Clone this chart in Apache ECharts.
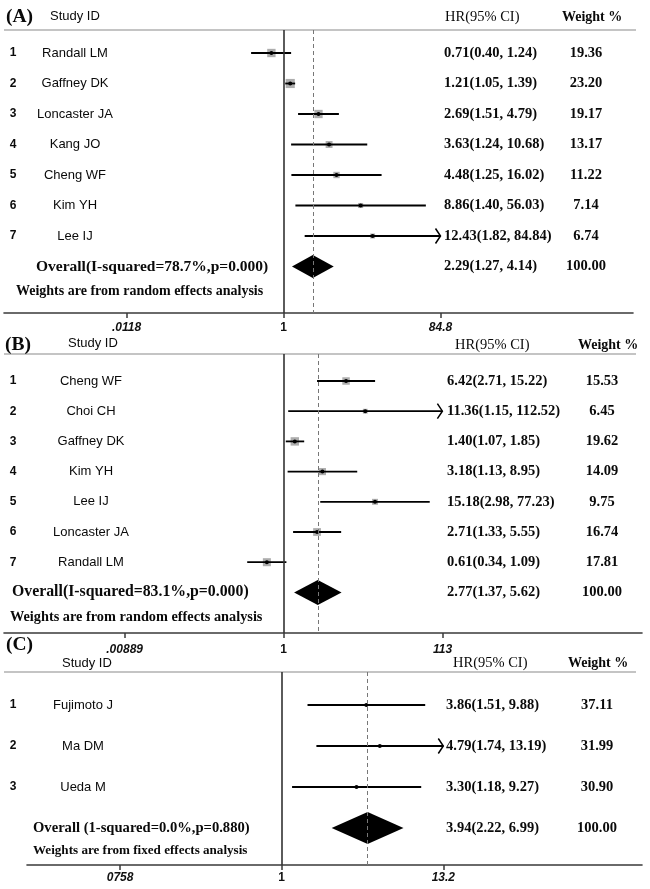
<!DOCTYPE html>
<html>
<head>
<meta charset="utf-8">
<title>Forest plots</title>
<script src="https://cdn.jsdelivr.net/npm/echarts@6/dist/echarts.min.js"></script>
<style>
  html, body { margin: 0; padding: 0; background: #fff; }
  #main { width: 650px; height: 889px; }
</style>
</head>
<body>
<div id="main"></div>
<script>
// (A)
var studiesA = ['Randall LM', 'Gaffney DK', 'Loncaster JA', 'Kang JO', 'Cheng WF', 'Kim YH', 'Lee IJ'];
var hrA = [0.71, 1.21, 2.69, 3.63, 4.48, 8.86, 12.43];
var lowA = [0.40, 1.05, 1.51, 1.24, 1.25, 1.40, 1.82];
var highA = [1.24, 1.39, 4.79, 10.68, 16.02, 56.03, 84.84];
var weightA = [19.36, 23.20, 19.17, 13.17, 11.22, 7.14, 6.74];
var overallA = [2.29, 1.27, 4.14, 100.00];
var overallLabelA = 'Overall(I-squared=78.7%,p=0.000)';
var noteA = 'Weights are from random effects analysis';
var ticksA = [0.0118, 1, 84.8];
var tickLabelsA = ['.0118', '1', '84.8'];

// (B)
var studiesB = ['Cheng WF', 'Choi CH', 'Gaffney DK', 'Kim YH', 'Lee IJ', 'Loncaster JA', 'Randall LM'];
var hrB = [6.42, 11.36, 1.40, 3.18, 15.18, 2.71, 0.61];
var lowB = [2.71, 1.15, 1.07, 1.13, 2.98, 1.33, 0.34];
var highB = [15.22, 112.52, 1.85, 8.95, 77.23, 5.55, 1.09];
var weightB = [15.53, 6.45, 19.62, 14.09, 9.75, 16.74, 17.81];
var overallB = [2.77, 1.37, 5.62, 100.00];
var overallLabelB = 'Overall(I-squared=83.1%,p=0.000)';
var noteB = 'Weights are from random effects analysis';
var ticksB = [0.00889, 1, 113];
var tickLabelsB = ['.00889', '1', '113'];

// (C)
var studiesC = ['Fujimoto J', 'Ma DM', 'Ueda M'];
var hrC = [3.86, 4.79, 3.30];
var lowC = [1.51, 1.74, 1.18];
var highC = [9.88, 13.19, 9.27];
var weightC = [37.11, 31.99, 30.90];
var overallC = [3.94, 2.22, 6.99, 100.00];
var overallLabelC = 'Overall (1-squared=0.0%,p=0.880)';
var noteC = 'Weights are from fixed effects analysis';
var ticksC = [0.0758, 1, 13.2];
var tickLabelsC = ['0758', '1', '13.2'];

var SANS = '"Liberation Sans", Arial, sans-serif';
var SERIF = '"Liberation Serif", "Times New Roman", serif';

// pixel layout of each panel
var layouts = [
    { letter: '(A)', letterX: 6, letterY: 17, sidY: 16, sidX: 50, hrHeadX: 445, wtHeadX: 562, headY: 17,
      headerLine: 30, axisY: 313, left: 4, right: 633, x1: 283.5, ppu: 35.36, row1: 53, gap: 30.5,
      nameX: 75, hrX: 444, wtX: 586, overallX: 36, noteX: 16, overallFont: 15.5, noteFont: 14, noteDy: 25,
      boxes: true, diamondH: 11.5, labelMargin: 9 },
    { letter: '(B)', letterX: 5, letterY: 345, sidY: 343, sidX: 68, hrHeadX: 455, wtHeadX: 578, headY: 345,
      headerLine: 354, axisY: 633, left: 4, right: 642, x1: 283.5, ppu: 33.64, row1: 381, gap: 30.2,
      nameX: 91, hrX: 447, wtX: 602, overallX: 12, noteX: 10, overallFont: 15.8, noteFont: 14.3, noteDy: 25,
      boxes: true, diamondH: 12.5, labelMargin: 11 },
    { letter: '(C)', letterX: 6, letterY: 645, sidY: 663, sidX: 62, hrHeadX: 453, wtHeadX: 568, headY: 663,
      headerLine: 672, axisY: 865, left: 27, right: 642, x1: 281.7, ppu: 62.65, row1: 705, gap: 41,
      nameX: 83, hrX: 446, wtX: 597, overallX: 33, noteX: 33, overallFont: 14.6, noteFont: 13.1, noteDy: 23,
      boxes: false, diamondH: 16, labelMargin: 7 }
];

var panels = [
    { studies: studiesA, hr: hrA, low: lowA, high: highA, weight: weightA, overall: overallA,
      overallLabel: overallLabelA, note: noteA, ticks: ticksA, tickLabels: tickLabelsA },
    { studies: studiesB, hr: hrB, low: lowB, high: highB, weight: weightB, overall: overallB,
      overallLabel: overallLabelB, note: noteB, ticks: ticksB, tickLabels: tickLabelsB },
    { studies: studiesC, hr: hrC, low: lowC, high: highC, weight: weightC, overall: overallC,
      overallLabel: overallLabelC, note: noteC, ticks: ticksC, tickLabels: tickLabelsC }
];

function ciText(hr, lo, hi) {
    return hr.toFixed(2) + '(' + lo.toFixed(2) + ', ' + hi.toFixed(2) + ')';
}

function txt(x, y, text, font, align) {
    return {
        type: 'text', x: x, y: y, silent: true,
        style: { text: text, font: font, fill: '#0a0a0a', align: align || 'left', verticalAlign: 'middle' }
    };
}

var grids = [], xAxes = [], yAxes = [], series = [], graphics = [];

panels.forEach(function (p, k) {
    var L = layouts[k];
    var n = p.studies.length;
    var clipMax = Math.log(p.ticks[p.ticks.length - 1]);
    var maxHigh = Math.max.apply(null, p.high);
    var lnTicks = p.ticks.map(Math.log);

    grids.push({ left: L.left, top: L.headerLine, width: L.right - L.left, height: L.axisY - L.headerLine });

    xAxes.push({
        type: 'value', gridIndex: k,
        min: (L.left - L.x1) / L.ppu, max: (L.right - L.x1) / L.ppu,
        splitLine: { show: false },
        axisLine: { lineStyle: { color: '#3a3a3a', width: 1.6 } },
        axisTick: { customValues: lnTicks, length: 5, lineStyle: { color: '#3a3a3a', width: 1.5 } },
        axisLabel: {
            customValues: lnTicks, margin: L.labelMargin,
            formatter: function (v) {
                var best = 0;
                lnTicks.forEach(function (t, i) { if (Math.abs(t - v) < Math.abs(lnTicks[best] - v)) best = i; });
                return p.ticks[best] === 1 ? '{n|1}' : '{i|' + p.tickLabels[best] + '}';
            },
            rich: {
                n: { fontFamily: SANS, fontWeight: 'bold', fontSize: 12, color: '#111' },
                i: { fontFamily: SANS, fontWeight: 'bold', fontStyle: 'italic', fontSize: 12, color: '#111' }
            }
        }
    });

    yAxes.push({
        type: 'value', gridIndex: k, inverse: true, show: false,
        min: 1 - (L.row1 - L.headerLine) / L.gap,
        max: 1 + (L.axisY - L.row1) / L.gap
    });

    // study rows
    series.push({
        type: 'custom', xAxisIndex: k, yAxisIndex: k, z: 3,
        encode: { x: [1, 2, 3], y: 0 },
        data: p.studies.map(function (s, i) {
            return [i + 1, Math.log(p.hr[i]), Math.log(p.low[i]), Math.log(p.high[i]), p.weight[i]];
        }),
        renderItem: function (params, api) {
            var i = params.dataIndex;
            var row = api.value(0);
            var ptHr = api.coord([api.value(1), row]);
            var ptLo = api.coord([api.value(2), row]);
            var ptHi = api.coord([Math.min(api.value(3), clipMax), row]);
            var y = ptHr[1];
            var kids = [];
            if (L.boxes) {
                var side = 1.9 * Math.sqrt(api.value(4));
                kids.push({ type: 'rect', shape: { x: ptHr[0] - side / 2, y: y - side / 2, width: side, height: side },
                    style: { fill: '#adadad' } });
            }
            kids.push({ type: 'line', shape: { x1: ptLo[0], y1: y, x2: ptHi[0], y2: y },
                style: { stroke: '#000', lineWidth: 1.8 } });
            if (p.high[i] === maxHigh) {
                kids.push({ type: 'polyline', shape: { points: [[ptHi[0] - 5, y - 7.5], [ptHi[0], y], [ptHi[0] - 5, y + 7.5]] },
                    style: { stroke: '#000', lineWidth: 1.5, fill: null } });
            }
            kids.push({ type: 'circle', shape: { cx: ptHr[0], cy: y, r: 2 }, style: { fill: '#000' } });
            kids.push(txt(13, y, String(i + 1), 'bold 12px ' + SANS, 'center'));
            kids.push(txt(L.nameX, y, p.studies[i], '13px ' + SANS, 'center'));
            kids.push(txt(L.hrX, y, ciText(p.hr[i], p.low[i], p.high[i]), 'bold 14.5px ' + SERIF, 'left'));
            kids.push(txt(L.wtX, y, p.weight[i].toFixed(2), 'bold 14.5px ' + SERIF, 'center'));
            return { type: 'group', children: kids };
        }
    });

    // overall diamond, summary texts and reference lines
    series.push({
        type: 'custom', xAxisIndex: k, yAxisIndex: k, z: 2,
        encode: { x: [1, 2, 3], y: 0 },
        data: [[n + 1, Math.log(p.overall[0]), Math.log(p.overall[1]), Math.log(p.overall[2]), p.overall[3]]],
        renderItem: function (params, api) {
            var row = api.value(0);
            var c = api.coord([api.value(1), row]);
            var lo = api.coord([api.value(2), row]);
            var hi = api.coord([api.value(3), row]);
            var y = c[1], h = L.diamondH;
            return {
                type: 'group',
                children: [
                    { type: 'polygon', shape: { points: [[lo[0], y], [c[0], y - h], [hi[0], y], [c[0], y + h]] },
                      style: { fill: '#000' } },
                    txt(L.overallX, y, p.overallLabel, 'bold ' + L.overallFont + 'px ' + SERIF, 'left'),
                    txt(L.noteX, y + L.noteDy, p.note, 'bold ' + L.noteFont + 'px ' + SERIF, 'left'),
                    txt(L.hrX, y, ciText(p.overall[0], p.overall[1], p.overall[2]), 'bold 14.5px ' + SERIF, 'left'),
                    txt(L.wtX, y, p.overall[3].toFixed(2), 'bold 14.5px ' + SERIF, 'center')
                ]
            };
        },
        markLine: {
            silent: true, symbol: ['none', 'none'], label: { show: false }, animation: false,
            data: [
                { xAxis: 0, lineStyle: { color: '#333', width: 1.6, type: 'solid' } },
                { xAxis: Math.log(p.overall[0]), lineStyle: { color: '#777', width: 1, type: [4, 3] } }
            ]
        }
    });

    // column headers and header rule
    graphics.push({ type: 'line', shape: { x1: 4, y1: L.headerLine, x2: 636, y2: L.headerLine },
        style: { stroke: '#c4c4c4', lineWidth: 2 }, silent: true });
    graphics.push(txt(L.letterX, L.letterY, L.letter, 'bold 19.5px ' + SERIF, 'left'));
    graphics.push(txt(L.sidX, L.sidY, 'Study ID', '13px ' + SANS, 'left'));
    graphics.push(txt(L.hrHeadX, L.headY, 'HR(95% CI)', '14.5px ' + SERIF, 'left'));
    graphics.push(txt(L.wtHeadX, L.headY, 'Weight %', 'bold 14px ' + SERIF, 'left'));
});

var myChart = echarts.init(document.getElementById('main'));
var option = {
    animation: false,
    backgroundColor: '#fff',
    grid: grids,
    xAxis: xAxes,
    yAxis: yAxes,
    series: series,
    graphic: graphics
};
option && myChart.setOption(option);
</script>
</body>
</html>
